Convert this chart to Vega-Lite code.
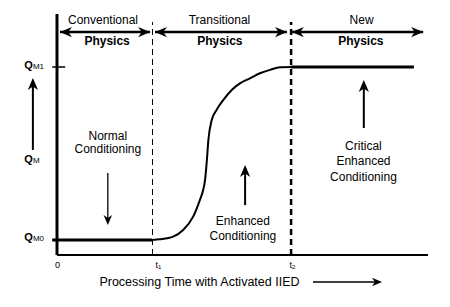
{
  "$schema": "https://vega.github.io/schema/vega-lite/v6.json",
  "width": 371,
  "height": 241,
  "autosize": {"type": "none"},
  "padding": {"left": 57, "top": 14, "right": 22, "bottom": 52},
  "background": "white",
  "config": {"view": {"stroke": null}, "text": {"font": "Liberation Sans", "color": "black"}},
  "encoding": {
    "x": {"field": "t", "type": "quantitative", "scale": {"domain": [0, 10], "nice": false, "zero": false}, "axis": null},
    "y": {"field": "q", "type": "quantitative", "scale": {"domain": [0, 10], "nice": false, "zero": false}, "axis": null}
  },
  "layer": [
    {
      "data": {"values": [{"t": 2.574, "q": 0, "q2": 9.67}]},
      "mark": {"type": "rule", "color": "black", "strokeWidth": 1, "strokeDash": [6, 4]},
      "encoding": {"y2": {"field": "q2"}}
    },
    {
      "data": {"values": [{"t": 6.31, "q": 0, "q2": 9.67}]},
      "mark": {"type": "rule", "color": "black", "strokeWidth": 2.5, "strokeDash": [6, 4]},
      "encoding": {"y2": {"field": "q2"}}
    },
    {
      "data": {"values": [{"t": 0, "q": 0, "q2": 10}]},
      "mark": {"type": "rule", "color": "black", "strokeWidth": 3},
      "encoding": {"y2": {"field": "q2"}}
    },
    {
      "data": {"values": [{"t": 0, "t2": 10, "q": 0}]},
      "mark": {"type": "rule", "color": "black", "strokeWidth": 1.8},
      "encoding": {"x2": {"field": "t2"}}
    },
    {
      "data": {"values": [
        {"level": "QM0", "t": -0.13, "t2": 2.56, "q": 0.62},
        {"level": "QM1", "t": 6.31, "t2": 9.62, "q": 7.8}
      ]},
      "mark": {"type": "rule", "color": "black", "strokeWidth": 3},
      "encoding": {"x2": {"field": "t2"}}
    },
    {
      "data": {"values": [{"level": "QM1", "t": -0.13, "t2": 0.22, "q": 7.8}]},
      "mark": {"type": "rule", "color": "black", "strokeWidth": 1.5},
      "encoding": {"x2": {"field": "t2"}}
    },
    {
      "data": {"values": [
        {"t": 2.56, "q": 0.62}, {"t": 2.78, "q": 0.65}, {"t": 3.13, "q": 0.76},
        {"t": 3.40, "q": 1.04}, {"t": 3.67, "q": 1.59}, {"t": 3.85, "q": 2.28},
        {"t": 3.94, "q": 2.70}, {"t": 3.99, "q": 3.11}, {"t": 4.04, "q": 3.94},
        {"t": 4.08, "q": 4.77}, {"t": 4.17, "q": 5.60}, {"t": 4.30, "q": 6.02},
        {"t": 4.48, "q": 6.43}, {"t": 4.71, "q": 6.85}, {"t": 4.93, "q": 7.12},
        {"t": 5.20, "q": 7.33}, {"t": 5.47, "q": 7.54}, {"t": 5.74, "q": 7.68},
        {"t": 6.01, "q": 7.79}, {"t": 6.31, "q": 7.80}
      ]},
      "mark": {"type": "line", "color": "black", "strokeWidth": 2, "interpolate": "monotone"},
      "encoding": {}
    },
    {
      "data": {"values": [
        {"span": "Conventional", "t": 0.08, "q": 9.25, "t2": 2.51, "q2": 9.25},
        {"span": "Transitional", "t": 2.64, "q": 9.25, "t2": 6.2, "q2": 9.25},
        {"span": "New", "t": 6.33, "q": 9.25, "t2": 9.87, "q2": 9.25}
      ]},
      "mark": {"type": "rule", "color": "black", "strokeWidth": 2.5},
      "encoding": {"x2": {"field": "t2"}, "y2": {"field": "q2"}}
    },
    {
      "data": {"values": [
        {"arrow": "QM", "t": -0.65, "q": 4.36, "t2": -0.65, "q2": 7.2},
        {"arrow": "Enhanced", "t": 5.07, "q": 2.07, "t2": 5.07, "q2": 3.6},
        {"arrow": "Critical", "t": 8.27, "q": 5.27, "t2": 8.27, "q2": 7.1}
      ]},
      "mark": {"type": "rule", "color": "black", "strokeWidth": 2},
      "encoding": {"x2": {"field": "t2"}, "y2": {"field": "q2"}}
    },
    {
      "data": {"values": [
        {"arrow": "Normal", "t": 1.37, "q": 3.40, "t2": 1.37, "q2": 1.4},
        {"arrow": "Time", "t": 6.90, "q": -1.12, "t2": 8.6, "q2": -1.12}
      ]},
      "mark": {"type": "rule", "color": "black", "strokeWidth": 1.3},
      "encoding": {"x2": {"field": "t2"}, "y2": {"field": "q2"}}
    },
    {
      "data": {"values": [
        {"dir": "left", "t": 0.08, "q": 9.25}, {"dir": "right", "t": 2.51, "q": 9.25},
        {"dir": "left", "t": 2.64, "q": 9.25}, {"dir": "right", "t": 6.2, "q": 9.25},
        {"dir": "left", "t": 6.33, "q": 9.25}, {"dir": "right", "t": 9.87, "q": 9.25},
        {"dir": "up", "t": -0.65, "q": 7.34}, {"dir": "up", "t": 5.07, "q": 3.73},
        {"dir": "up", "t": 8.27, "q": 7.26}
      ]},
      "mark": {"type": "point", "filled": true, "color": "black", "opacity": 1, "size": 144, "strokeWidth": 0},
      "encoding": {
        "shape": {"field": "dir", "type": "nominal", "legend": null, "scale": {
          "domain": ["right", "left", "up", "down"],
          "range": ["M0,0L-2,-0.85L-1.4,0L-2,0.85Z", "M0,0L2,-0.85L1.4,0L2,0.85Z", "M0,0L-0.85,2L0,1.4L0.85,2Z", "M0,0L-0.85,-2L0,-1.4L0.85,-2Z"]
        }}
      }
    },
    {
      "data": {"values": [
        {"dir": "down", "t": 1.37, "q": 1.24},
        {"dir": "right", "t": 8.76, "q": -1.12}
      ]},
      "mark": {"type": "point", "filled": true, "color": "black", "opacity": 1, "size": 100, "strokeWidth": 0},
      "encoding": {
        "shape": {"field": "dir", "type": "nominal", "legend": null, "scale": {
          "domain": ["right", "left", "up", "down"],
          "range": ["M0,0L-2,-0.85L-1.4,0L-2,0.85Z", "M0,0L2,-0.85L1.4,0L2,0.85Z", "M0,0L-0.85,2L0,1.4L0.85,2Z", "M0,0L-0.85,-2L0,-1.4L0.85,-2Z"]
        }}
      }
    },
    {
      "data": {"values": [
        {"t": 1.24, "q": 9.75, "label": "Conventional"},
        {"t": 4.38, "q": 9.75, "label": "Transitional"},
        {"t": 8.21, "q": 9.75, "label": "New"},
        {"t": 1.37, "q": 4.94, "label": "Normal"},
        {"t": 1.37, "q": 4.38, "label": "Conditioning"},
        {"t": 5.01, "q": 1.41, "label": "Enhanced"},
        {"t": 5.01, "q": 0.78, "label": "Conditioning"},
        {"t": 8.26, "q": 4.53, "label": "Critical"},
        {"t": 8.26, "q": 3.89, "label": "Enhanced"},
        {"t": 8.26, "q": 3.25, "label": "Conditioning"}
      ]},
      "mark": {"type": "text", "fontSize": 12, "align": "center", "baseline": "middle"},
      "encoding": {"text": {"field": "label"}}
    },
    {
      "data": {"values": [
        {"t": 1.35, "q": 8.9, "label": "Physics"},
        {"t": 4.39, "q": 8.9, "label": "Physics"},
        {"t": 8.19, "q": 8.9, "label": "Physics"}
      ]},
      "mark": {"type": "text", "fontSize": 12, "fontWeight": "bold", "align": "center", "baseline": "middle"},
      "encoding": {"text": {"field": "label"}}
    },
    {
      "data": {"values": [
        {"t": -0.77, "q": 7.71, "label": "Q", "sub": "M1"},
        {"t": -0.77, "q": 3.82, "label": "Q", "sub": "M"},
        {"t": -0.77, "q": 0.58, "label": "Q", "sub": "M0"}
      ]},
      "layer": [
        {
          "mark": {"type": "text", "fontSize": 11, "fontWeight": "bold", "align": "center", "baseline": "alphabetic"},
          "encoding": {"text": {"field": "label"}}
        },
        {
          "mark": {"type": "text", "fontSize": 8, "align": "left", "baseline": "alphabetic", "dx": 4.5},
          "encoding": {"text": {"field": "sub"}}
        }
      ]
    },
    {
      "data": {"values": [
        {"t": 0.03, "q": -0.52, "label": "0", "sub": ""},
        {"t": 2.67, "q": -0.52, "label": "t", "sub": "1"},
        {"t": 6.28, "q": -0.52, "label": "t", "sub": "2"}
      ]},
      "layer": [
        {
          "mark": {"type": "text", "fontSize": 9, "align": "right", "baseline": "alphabetic", "dx": 2},
          "encoding": {"text": {"field": "label"}}
        },
        {
          "mark": {"type": "text", "fontSize": 6, "align": "left", "baseline": "alphabetic", "dx": 2, "dy": 1},
          "encoding": {"text": {"field": "sub"}}
        }
      ]
    },
    {
      "data": {"values": [{"t": 3.84, "q": -1.12, "label": "Processing Time with Activated IIED"}]},
      "mark": {"type": "text", "fontSize": 12.5, "align": "center", "baseline": "middle"},
      "encoding": {"text": {"field": "label"}}
    }
  ]
}
